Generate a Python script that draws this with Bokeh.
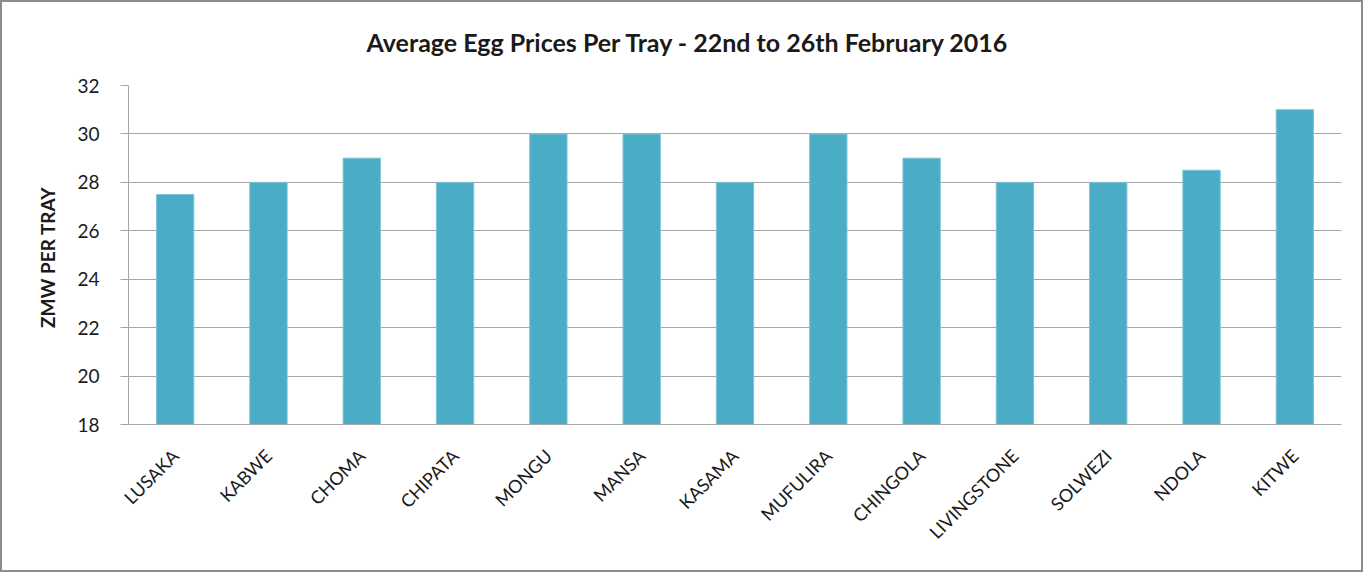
import math
from bokeh.plotting import figure
from bokeh.models import Range1d, Title
from bokeh.embed import file_html
from bokeh.resources import INLINE

cities = ["LUSAKA", "KABWE", "CHOMA", "CHIPATA", "MONGU", "MANSA", "KASAMA",
          "MUFULIRA", "CHINGOLA", "LIVINGSTONE", "SOLWEZI", "NDOLA", "KITWE"]
prices = [27.5, 28, 29, 28, 30, 30, 28, 30, 29, 28, 28, 28.5, 31]
y_ticks = [18, 20, 22, 24, 26, 28, 30, 32]
title_text = "Average Egg Prices Per Tray - 22nd to  26th  February 2016"

FONT = "Lato"
W, H = 1363, 572
ML, MR, MT, MB = 126, 24, 83, 150

p = figure(x_range=cities, width=W, height=H, output_backend="svg",
           toolbar_location=None, tools="",
           min_border_left=ML, min_border_right=MR,
           min_border_top=MT, min_border_bottom=MB)
p.title_location = None
p.y_range = Range1d(18, 32)
p.styles = {"border": "2px solid #8c8c8c", "box-sizing": "border-box"}

spacer = Title(text=" ", text_font_size="8px", standoff=0)
main_title = Title(text=title_text, text_font=FONT, text_font_style="bold",
                   text_font_size="25px", text_color="#1a1a1a",
                   align="left", offset=238, standoff=36)
p.add_layout(spacer, "above")
p.add_layout(main_title, "above")

p.vbar(x=cities, top=prices, bottom=18, width=0.4,
       fill_color="#4BACC6", line_color="#7cc4d8", line_width=1)

p.outline_line_color = None
p.xgrid.grid_line_color = None
p.ygrid.grid_line_color = "#a6a6a6"
p.ygrid.grid_line_width = 1

p.yaxis.ticker = y_ticks
p.yaxis.axis_line_color = "#a6a6a6"
p.yaxis.major_tick_line_color = "#a6a6a6"
p.yaxis.major_tick_out = 8
p.yaxis.major_tick_in = 0
p.yaxis.minor_tick_line_color = None
p.yaxis.major_label_text_font = FONT
p.yaxis.major_label_text_font_size = "19px"
p.yaxis.major_label_text_color = "#1a1a1a"
p.yaxis.major_label_standoff = 21
p.yaxis.axis_label = "ZMW  PER TRAY"
p.yaxis.axis_label_text_font = FONT
p.yaxis.axis_label_text_font_style = "bold"
p.yaxis.axis_label_text_font_size = "19px"
p.yaxis.axis_label_text_color = "#1a1a1a"
p.yaxis.axis_label_standoff = 15

p.xaxis.axis_line_color = "#a6a6a6"
p.xaxis.major_tick_line_color = None
p.xaxis.minor_tick_line_color = None
p.xaxis.major_label_orientation = math.pi / 4
p.xaxis.major_label_text_font = FONT
p.xaxis.major_label_text_font_size = "18px"
p.xaxis.major_label_text_color = "#1a1a1a"
p.xaxis.major_label_standoff = 22

open("out.html", "w").write(file_html(p, INLINE))
